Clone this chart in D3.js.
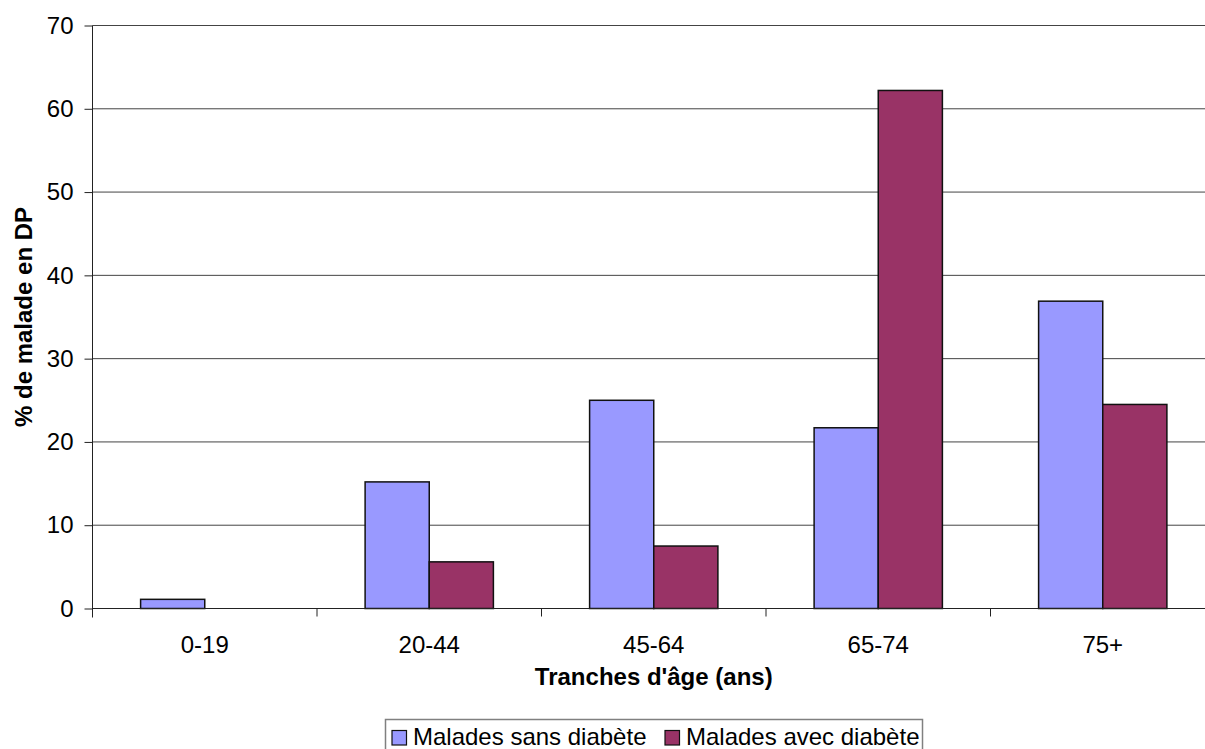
<!DOCTYPE html>
<html><head><meta charset="utf-8">
<script src="https://cdn.jsdelivr.net/npm/d3@7"></script>
<style>body{margin:0;background:#fff;overflow:hidden}svg{display:block}</style>
</head><body>
<script>
const categories = ["0-19", "20-44", "45-64", "65-74", "75+"];
const seriesNames = ["Malades sans diabète", "Malades avec diabète"];
const sansDiabete = [1.1, 15.2, 25.0, 21.7, 36.9];
const avecDiabete = [0, 5.6, 7.5, 62.2, 24.5];
const yTicks = [0, 10, 20, 30, 40, 50, 60, 70];
const colors = ["#9999FF", "#993366"];

const W = 1205, H = 749;
const svg = d3.select("body").append("svg").attr("width", W).attr("height", H);
const font = "Arial, 'Liberation Sans', sans-serif";

const x0 = 92.5, x1 = 1215, yTop = 25.5, yBot = 608.5;
const x = d3.scaleBand().domain(categories).range([x0, x1]).paddingInner(0).paddingOuter(0);
const y = d3.scaleLinear().domain([0, 70]).range([yBot, yTop]);
const xs = d3.scaleBand().domain([0, 1]).range([0, x.bandwidth()]).paddingOuter(0.75).paddingInner(0);

// gridlines
svg.append("g").selectAll("line").data(yTicks.filter(d => d > 0)).join("line")
  .attr("x1", x0).attr("x2", W).attr("y1", d => y(d)).attr("y2", d => y(d))
  .attr("stroke", "#444").attr("stroke-width", 1);

// bars
const series = [sansDiabete, avecDiabete];
const g = svg.append("g");
categories.forEach((c, i) => {
  series.forEach((s, k) => {
    if (s[i] <= 0) return;
    g.append("rect")
      .attr("x", x(c) + xs(k)).attr("width", xs.bandwidth())
      .attr("y", y(s[i])).attr("height", y(0) - y(s[i]))
      .attr("fill", colors[k]).attr("stroke", "#111").attr("stroke-width", 1.5);
  });
});

// y axis
const yAxis = d3.axisLeft(y).tickValues(yTicks).tickSize(8).tickPadding(11);
const ya = svg.append("g").attr("transform", `translate(${x0},0)`).call(yAxis);
ya.select(".domain").attr("stroke", "#222").attr("d", `M0,${yTop}V${yBot + 9}`);
ya.selectAll(".tick line").attr("stroke", "#222");
ya.selectAll("text").attr("font-family", font).attr("font-size", 24).attr("fill", "#000");

// x axis
const xAxis = d3.axisBottom(x).tickSize(0).tickPadding(0);
const xa = svg.append("g").attr("transform", `translate(0,${yBot})`).call(xAxis);
xa.select(".domain").attr("stroke", "#222").attr("d", `M${x0},0H${W}`);
xa.selectAll("text").attr("dy", null).attr("y", 44.5)
  .attr("font-family", font).attr("font-size", 24).attr("fill", "#000");
xa.append("g").selectAll("line").data(categories.slice(1)).join("line")
  .attr("x1", d => x(d)).attr("x2", d => x(d)).attr("y1", 0).attr("y2", 8)
  .attr("stroke", "#222");

// axis titles
svg.append("text").attr("x", (x0 + x1) / 2).attr("y", 685).attr("text-anchor", "middle")
  .attr("font-family", font).attr("font-size", 24).attr("font-weight", "bold")
  .text("Tranches d'âge (ans)");
svg.append("text").attr("transform", `translate(32,${(yTop + yBot) / 2}) rotate(-90)`)
  .attr("text-anchor", "middle")
  .attr("font-family", font).attr("font-size", 24).attr("font-weight", "bold")
  .text("% de malade en DP");

// legend
const lg = svg.append("g");
lg.append("rect").attr("x", 385.5).attr("y", 719.5).attr("width", 537).attr("height", 40)
  .attr("fill", "#fff").attr("stroke", "#808080").attr("stroke-width", 1.5);
const lx = [392, 665];
seriesNames.forEach((n, k) => {
  lg.append("rect").attr("x", lx[k]).attr("y", 730.5).attr("width", 14.5).attr("height", 14.5)
    .attr("fill", colors[k]).attr("stroke", "#111").attr("stroke-width", 1.2);
  lg.append("text").attr("x", lx[k] + 21).attr("y", 745)
    .attr("font-family", font).attr("font-size", 24).attr("fill", "#000").text(n);
});
</script>
</body></html>
